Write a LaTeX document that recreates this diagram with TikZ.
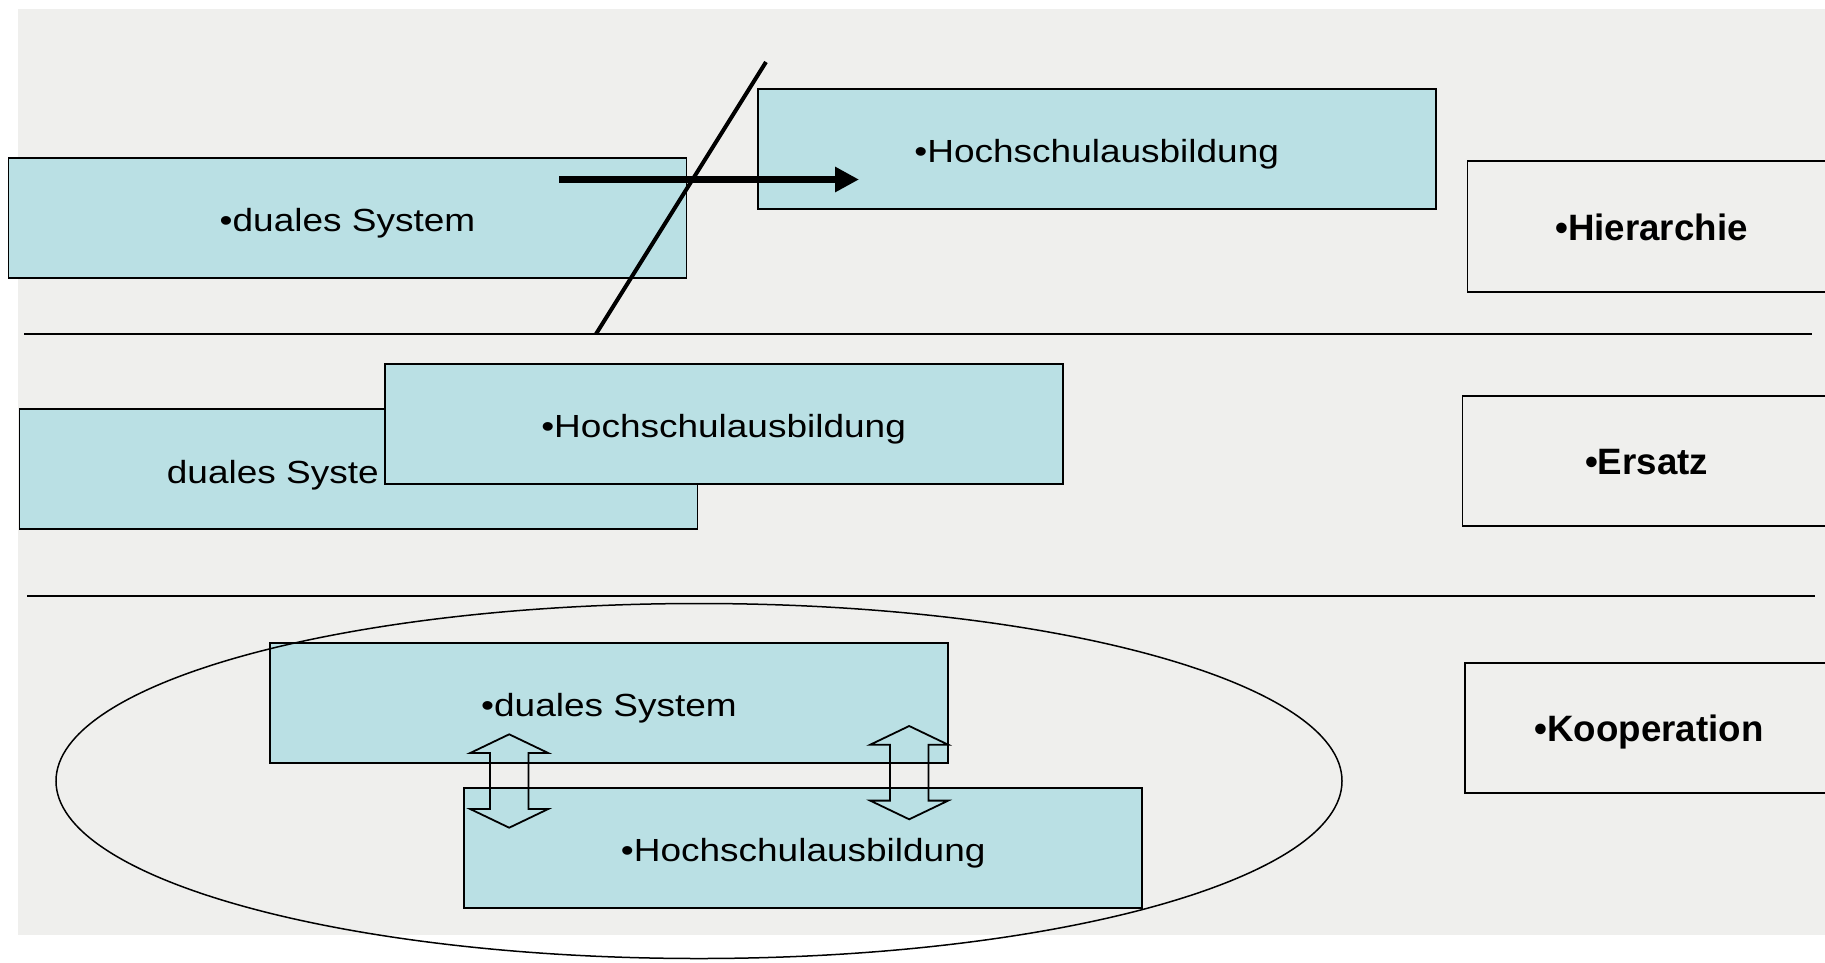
\documentclass[tikz,border=0pt]{standalone}
\usepackage{fontspec}
\usepackage{graphicx}
\setmainfont{Liberation Sans}
\usetikzlibrary{arrows.meta}

\definecolor{panelgrey}{RGB}{239,239,237}
\definecolor{boxcyan}{RGB}{186,224,228}

% regular box text is set slightly wide
\newcommand{\boxtxt}[1]{\scalebox{1.156}[1]{\fontsize{32}{38}\selectfont #1}}
\newcommand{\modetxt}[1]{{\fontsize{36.7}{44}\selectfont\bfseries #1}}

\begin{document}
\begin{tikzpicture}[x=1pt,y=-1pt,
  cbox/.style={draw=black,line width=1.8pt,fill=boxcyan,
    minimum width=678pt,minimum height=120pt,inner sep=0pt,
    text height=27pt,text depth=0pt},
  mbox/.style={draw=black,line width=1.8pt,
    minimum width=368pt,minimum height=130.5pt,inner sep=0pt,
    text height=27pt,text depth=0pt},
  sepline/.style={line width=1.7pt},
  blockarrow/.style={draw=black,line width=1.8pt,line join=miter}
]
\useasboundingbox (0,0) rectangle (1825,962);
\fill[panelgrey] (18,9) rectangle (1825,935);

% ---------- row 1: Hierarchie ----------
\node[cbox] (d1) at (347.5,218) {\boxtxt{•duales System}};
\node[cbox] (h1) at (1096.7,149) {\boxtxt{•Hochschulausbildung}};
\node[mbox] (hier) at (1651.5,226.5) {\modetxt{•Hierarchie}};

\coordinate (a1s) at (559,179.5);
\coordinate (a1e) at (859,179.5);
\draw[line width=6.8pt,-{Triangle[length=24pt,width=24pt]}] (a1s) -- (a1e);

\coordinate (cutT) at (766,62);
\coordinate (cutB) at (596,334);
\draw[line width=4pt] (cutT) -- (cutB);

\coordinate (s1l) at (24,334);
\coordinate (s1r) at (1811.5,334);
\draw[sepline] (s1l) -- (s1r);

% ---------- row 2: Ersatz ----------
\node[cbox] (d2) at (358.5,469) {};
\begin{scope}
  \clip (20,409) rectangle (377.5,529);
  \node[anchor=base west,inner sep=0pt] (d2t) at (166.7,483.3) {\boxtxt{duales System}};
\end{scope}
\node[cbox] (h2) at (723.6,423.8) {\boxtxt{•Hochschulausbildung}};
\node[mbox] (ers) at (1646.5,460.9) {\modetxt{•Ersatz}};

\coordinate (s2l) at (27,596);
\coordinate (s2r) at (1815,596);
\draw[sepline] (s2l) -- (s2r);

% ---------- row 3: Kooperation ----------
\node[cbox] (d3) at (609,703.3) {\boxtxt{•duales System}};
\node[cbox] (h3) at (803.2,847.7) {\boxtxt{•Hochschulausbildung}};
\node[mbox] (koop) at (1649,727.9) {\modetxt{•Kooperation}};

\draw[line width=1.5pt] (699,781) ellipse [x radius=643, y radius=177.5];

% open double block arrows between the two boxes
\foreach \cx/\ty/\by in {509.2/734.3/827.7, 909.2/726/819.3}{
  \draw[blockarrow]
    (\cx,\ty) -- (\cx+39,\ty+18.7) -- (\cx+19.2,\ty+18.7)
    -- (\cx+19.2,\by-18.7) -- (\cx+39,\by-18.7) -- (\cx,\by)
    -- (\cx-39,\by-18.7) -- (\cx-19.2,\by-18.7)
    -- (\cx-19.2,\ty+18.7) -- (\cx-39,\ty+18.7) -- cycle;
}
\end{tikzpicture}
\end{document}
